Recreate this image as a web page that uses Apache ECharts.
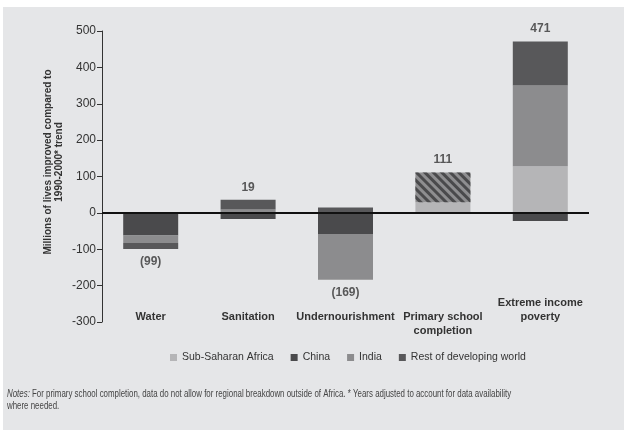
<!DOCTYPE html>
<html lang="en">
<head>
    <meta charset="UTF-8">
    <title>Lives improved</title>
    <style>
        body { margin: 0; background: #fff; }
    </style>
</head>
<body>

    <div id="echarts" style="width: 624px; height: 430px"></div>
    <script src="https://cdn.jsdelivr.net/npm/echarts@6/dist/echarts.min.js"></script>
    <script>
        const categories = ['Water', 'Sanitation', 'Undernourishment', 'Primary school\ncompletion', 'Extreme income\npoverty'];
        const africa = [0, 0, 0, 29, 128];
        const china = [-62, -17, -58, 0, -22];
        const india = [-21, 9, -126, 0, 222];
        const restOfWorld = [-16, 27, 15, 82, 121];
        const totals = [-99, 19, -169, 111, 471];
        const yTicks = [-300, -200, -100, 0, 100, 200, 300, 400, 500];

        const FONT = "'Liberation Sans', Arial, sans-serif";

        // top / bottom of each stacked bar, used to hang the total labels
        const tops = categories.map((c, i) =>
            [africa, china, india, restOfWorld].reduce((s, a) => s + Math.max(a[i], 0), 0));
        const bottoms = categories.map((c, i) =>
            [africa, china, india, restOfWorld].reduce((s, a) => s + Math.min(a[i], 0), 0));

        function barSeries(name, values, color) {
            return {
                name: name,
                type: 'bar',
                stack: 'total',
                barWidth: 55,
                itemStyle: { color: color },
                data: values.map((v, i) => {
                    // primary school: no breakdown outside Africa -> hatched
                    if (name === 'Rest of developing world' && i === 3) {
                        return {
                            value: v,
                            itemStyle: {
                                color: '#8e8e90',
                                decal: {
                                    symbol: 'rect',
                                    dashArrayX: [1, 0],
                                    dashArrayY: [3, 3],
                                    rotation: Math.PI / 4,
                                    color: '#4a4a4c'
                                }
                            }
                        };
                    }
                    return v;
                })
            };
        }

        const option = {
            backgroundColor: '#fff',
            animation: false,
            grid: { left: 102, right: 35, top: 31, bottom: 108 },
            graphic: [
                { type: 'rect', z: -10, shape: { x: 3, y: 7, width: 621, height: 423 }, style: { fill: '#e5e6e8' } },
                {
                    type: 'text', x: 54, y: 162, rotation: Math.PI / 2,
                    style: {
                        text: 'Millions of lives improved compared to\n1990-2000* trend',
                        font: 'bold 10px ' + FONT, fill: '#333', align: 'center', verticalAlign: 'middle', lineHeight: 11
                    }
                },
                {
                    type: 'text', x: 7, y: 388, scaleX: 0.79,
                    style: {
                        text: '{i|Notes:} For primary school completion, data do not allow for regional breakdown outside of Africa. * Years adjusted to account for data availability\nwhere needed.',
                        font: '10px ' + FONT, fill: '#444', lineHeight: 12,
                        rich: { i: { fontStyle: 'italic', font: 'italic 10px ' + FONT, fill: '#444' } }
                    }
                }
            ],
            legend: {
                bottom: 62,
                left: 165,
                itemWidth: 7,
                itemHeight: 7,
                itemGap: 17,
                icon: 'rect',
                textStyle: { fontFamily: FONT, fontSize: 10.5, color: '#333' },
                data: ['Sub-Saharan Africa', 'China', 'India', 'Rest of developing world']
            },
            xAxis: {
                type: 'category',
                data: categories.map((c, i) => i === 4 ? { value: c, textStyle: { verticalAlign: 'middle' } } : c),
                axisLine: { show: false, onZero: false },
                axisTick: { show: false },
                axisLabel: {
                    margin: -12, interval: 0, fontFamily: FONT, fontSize: 11, fontWeight: 'bold',
                    color: '#333', lineHeight: 14
                }
            },
            yAxis: {
                type: 'value',
                min: yTicks[0],
                max: yTicks[yTicks.length - 1],
                interval: 100,
                splitLine: { show: false },
                axisLine: { show: true, lineStyle: { color: '#333', width: 1 } },
                axisTick: { show: true, length: 5, lineStyle: { color: '#333' } },
                axisLabel: { fontFamily: FONT, fontSize: 12, color: '#333', margin: 6 }
            },
            series: [
                barSeries('Sub-Saharan Africa', africa, '#b5b5b7'),
                barSeries('China', china, '#4a4a4c'),
                barSeries('India', india, '#8c8c8e'),
                barSeries('Rest of developing world', restOfWorld, '#58585a'),
                {
                    type: 'scatter',
                    symbolSize: 1,
                    itemStyle: { color: 'rgba(0,0,0,0)' },
                    silent: true,
                    data: totals.map((t, i) => ({
                        value: t < 0 ? bottoms[i] : tops[i],
                        label: {
                            show: true,
                            position: t < 0 ? 'bottom' : 'top',
                            distance: 6,
                            formatter: t < 0 ? '(' + (-t) + ')' : String(t),
                            fontFamily: FONT, fontSize: 12, fontWeight: 'bold', color: '#333'
                        }
                    })),
                    markLine: {
                        silent: true,
                        symbol: 'none',
                        label: { show: false },
                        lineStyle: { color: '#111', width: 2, type: 'solid' },
                        data: [{ yAxis: 0 }]
                    }
                }
            ]
        };

        var chartDom = document.getElementById("echarts");
        var myChart = echarts.init(chartDom);
        myChart.setOption(option);
    </script>
</body>
</html>
